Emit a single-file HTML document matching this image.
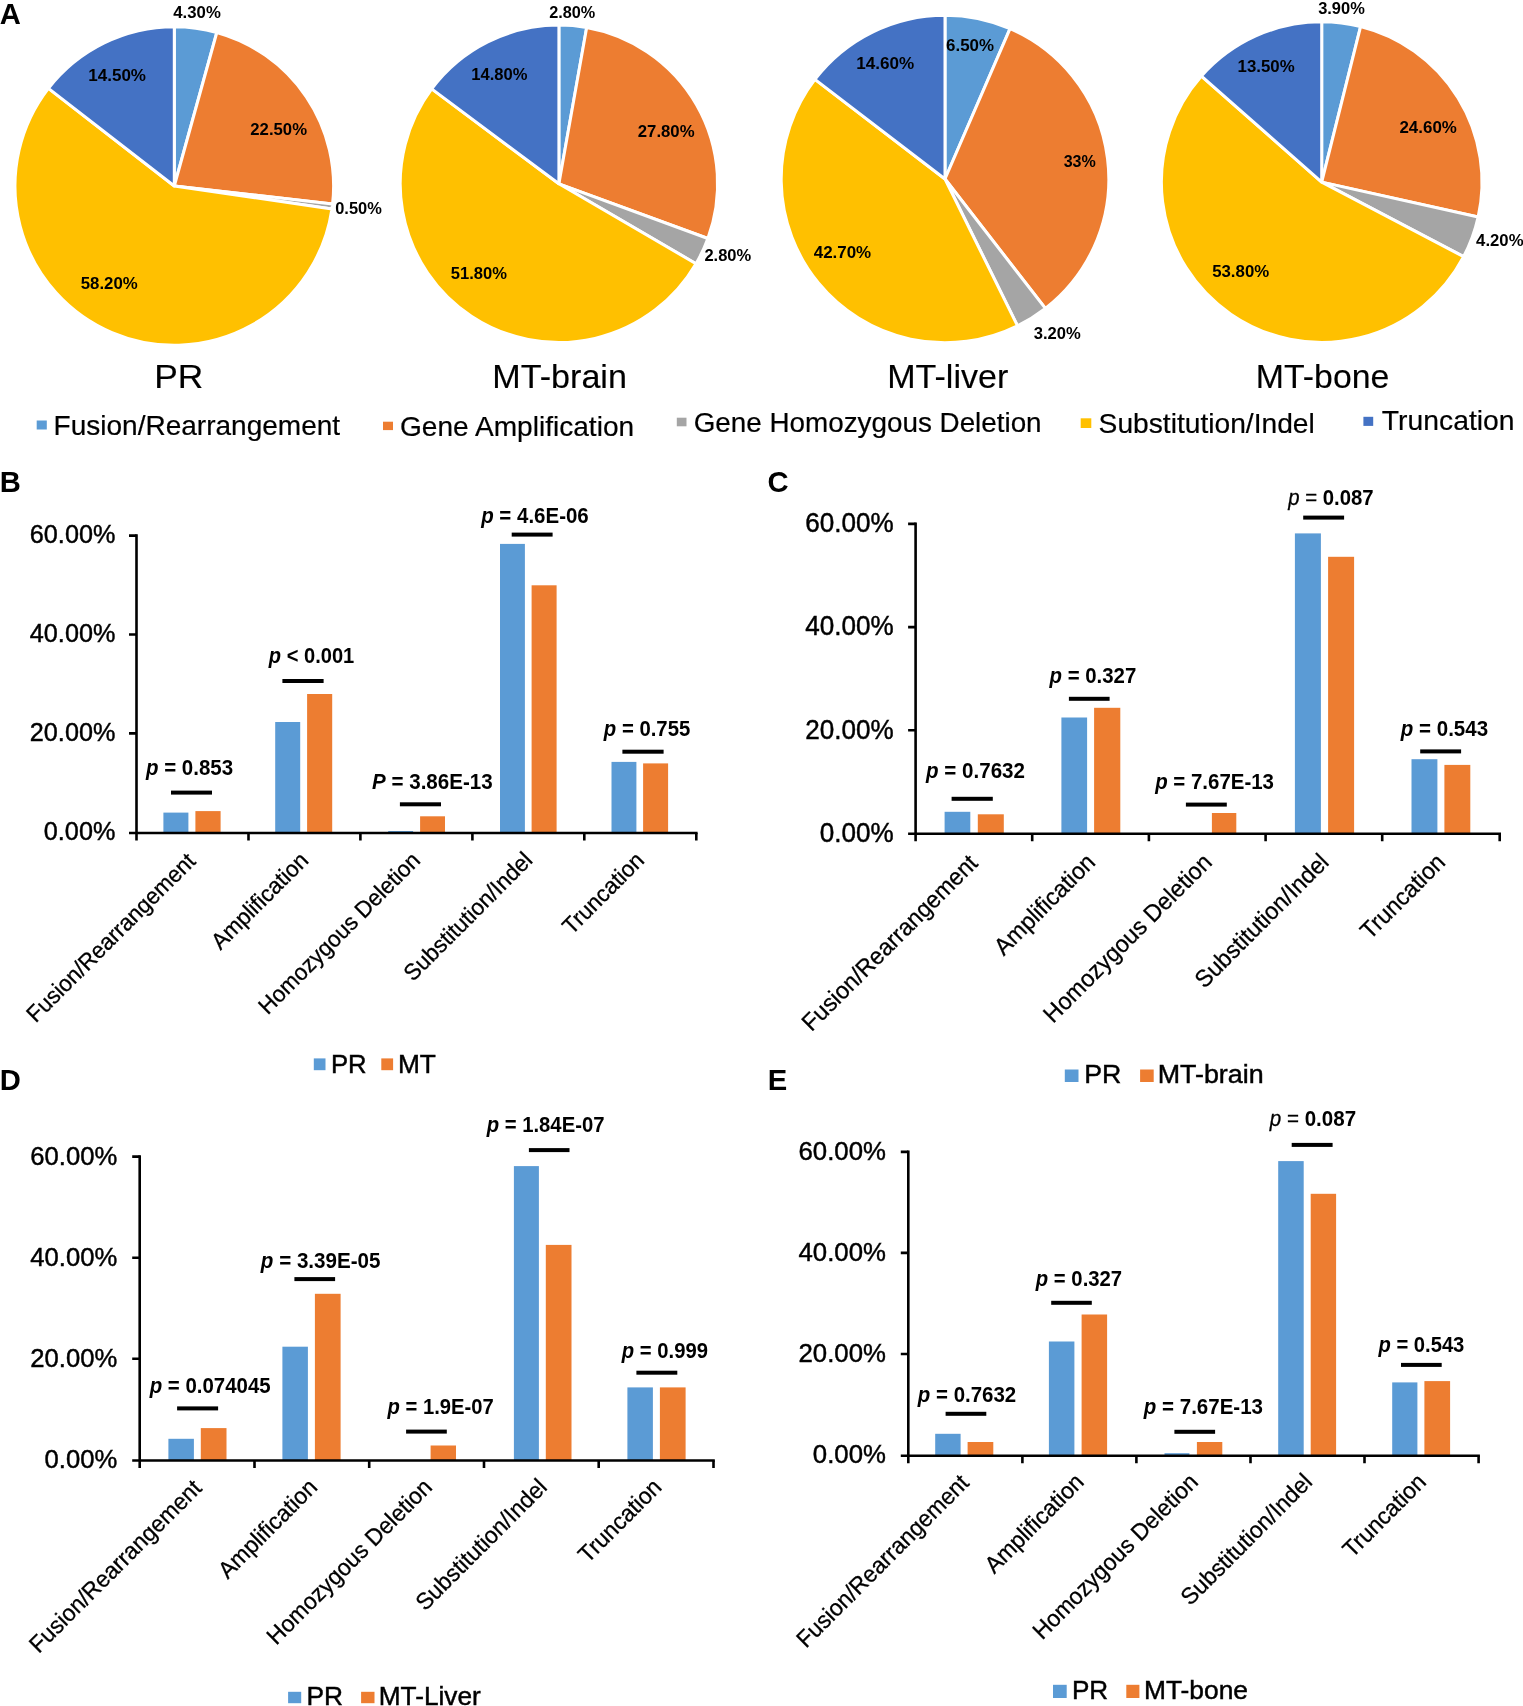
<!DOCTYPE html>
<html><head><meta charset="utf-8"><title>Figure</title>
<style>html,body{margin:0;padding:0;background:#fff}svg{display:block;filter:blur(0.35px)}text{font-family:"Liberation Sans", Arial, Helvetica, sans-serif;fill:#000;white-space:pre}</style>
</head><body>
<svg width="1523" height="1706" viewBox="0 0 1523 1706">
<rect width="1523" height="1706" fill="#fff"/>
<path d="M174.30,186.00 L174.30,26.70 A159.30,159.30 0 0 1 216.82,32.48 Z" fill="#5B9BD5" stroke="#fff" stroke-width="3.0" stroke-linejoin="round"/>
<path d="M174.30,186.00 L216.82,32.48 A159.30,159.30 0 0 1 332.58,203.98 Z" fill="#ED7D31" stroke="#fff" stroke-width="3.0" stroke-linejoin="round"/>
<path d="M174.30,186.00 L332.58,203.98 A159.30,159.30 0 0 1 331.94,208.94 Z" fill="#A5A5A5" stroke="#fff" stroke-width="3.0" stroke-linejoin="round"/>
<path d="M174.30,186.00 L331.94,208.94 A159.30,159.30 0 1 1 48.43,88.36 Z" fill="#FFC000" stroke="#fff" stroke-width="3.0" stroke-linejoin="round"/>
<path d="M174.30,186.00 L48.43,88.36 A159.30,159.30 0 0 1 174.30,26.70 Z" fill="#4472C4" stroke="#fff" stroke-width="3.0" stroke-linejoin="round"/>
<path d="M558.90,183.80 L558.90,25.10 A158.70,158.70 0 0 1 586.68,27.55 Z" fill="#5B9BD5" stroke="#fff" stroke-width="3.0" stroke-linejoin="round"/>
<path d="M558.90,183.80 L586.68,27.55 A158.70,158.70 0 0 1 707.88,238.49 Z" fill="#ED7D31" stroke="#fff" stroke-width="3.0" stroke-linejoin="round"/>
<path d="M558.90,183.80 L707.88,238.49 A158.70,158.70 0 0 1 696.00,263.73 Z" fill="#A5A5A5" stroke="#fff" stroke-width="3.0" stroke-linejoin="round"/>
<path d="M558.90,183.80 L696.00,263.73 A158.70,158.70 0 1 1 431.69,88.91 Z" fill="#FFC000" stroke="#fff" stroke-width="3.0" stroke-linejoin="round"/>
<path d="M558.90,183.80 L431.69,88.91 A158.70,158.70 0 0 1 558.90,25.10 Z" fill="#4472C4" stroke="#fff" stroke-width="3.0" stroke-linejoin="round"/>
<path d="M945.00,179.00 L945.00,15.20 A163.80,163.80 0 0 1 1010.05,28.67 Z" fill="#5B9BD5" stroke="#fff" stroke-width="3.0" stroke-linejoin="round"/>
<path d="M945.00,179.00 L1010.05,28.67 A163.80,163.80 0 0 1 1045.39,308.43 Z" fill="#ED7D31" stroke="#fff" stroke-width="3.0" stroke-linejoin="round"/>
<path d="M945.00,179.00 L1045.39,308.43 A163.80,163.80 0 0 1 1017.52,325.87 Z" fill="#A5A5A5" stroke="#fff" stroke-width="3.0" stroke-linejoin="round"/>
<path d="M945.00,179.00 L1017.52,325.87 A163.80,163.80 0 0 1 814.94,79.42 Z" fill="#FFC000" stroke="#fff" stroke-width="3.0" stroke-linejoin="round"/>
<path d="M945.00,179.00 L814.94,79.42 A163.80,163.80 0 0 1 945.00,15.20 Z" fill="#4472C4" stroke="#fff" stroke-width="3.0" stroke-linejoin="round"/>
<path d="M1321.70,182.10 L1321.70,21.80 A160.30,160.30 0 0 1 1360.59,26.59 Z" fill="#5B9BD5" stroke="#fff" stroke-width="3.0" stroke-linejoin="round"/>
<path d="M1321.70,182.10 L1360.59,26.59 A160.30,160.30 0 0 1 1478.14,217.07 Z" fill="#ED7D31" stroke="#fff" stroke-width="3.0" stroke-linejoin="round"/>
<path d="M1321.70,182.10 L1478.14,217.07 A160.30,160.30 0 0 1 1463.60,256.66 Z" fill="#A5A5A5" stroke="#fff" stroke-width="3.0" stroke-linejoin="round"/>
<path d="M1321.70,182.10 L1463.60,256.66 A160.30,160.30 0 1 1 1201.46,76.09 Z" fill="#FFC000" stroke="#fff" stroke-width="3.0" stroke-linejoin="round"/>
<path d="M1321.70,182.10 L1201.46,76.09 A160.30,160.30 0 0 1 1321.70,21.80 Z" fill="#4472C4" stroke="#fff" stroke-width="3.0" stroke-linejoin="round"/>
<rect x="36.7" y="420.5" width="10.1" height="9.0" fill="#5B9BD5"/>
<rect x="383" y="421.7" width="10.0" height="8.4" fill="#ED7D31"/>
<rect x="676.8" y="417.7" width="9.7" height="8.6" fill="#A5A5A5"/>
<rect x="1080.7" y="418.3" width="10.6" height="9.7" fill="#FFC000"/>
<rect x="1363.4" y="416.8" width="9.8" height="9.1" fill="#4472C4"/>
<text x="-0.3" y="23.9" font-size="29.2" font-weight="700">A</text>
<text x="-0.3" y="491.7" font-size="29.2" font-weight="700">B</text>
<text x="767.6" y="491.7" font-size="29.2" font-weight="700">C</text>
<text x="-0.3" y="1089.9" font-size="29.2" font-weight="700">D</text>
<text x="767.7" y="1089.8" font-size="29.2" font-weight="700">E</text>
<rect x="163.4" y="812.6" width="25.0" height="20.4" fill="#5B9BD5"/>
<rect x="195.4" y="811.1" width="25.2" height="21.9" fill="#ED7D31"/>
<rect x="275.2" y="722.0" width="25.0" height="111.0" fill="#5B9BD5"/>
<rect x="307.1" y="694.0" width="25.1" height="139.0" fill="#ED7D31"/>
<rect x="388.2" y="831.0" width="24.9" height="2.0" fill="#5B9BD5"/>
<rect x="420.1" y="816.3" width="24.9" height="16.7" fill="#ED7D31"/>
<rect x="500.0" y="543.9" width="24.9" height="289.1" fill="#5B9BD5"/>
<rect x="531.6" y="585.3" width="25.0" height="247.7" fill="#ED7D31"/>
<rect x="611.5" y="761.9" width="24.9" height="71.1" fill="#5B9BD5"/>
<rect x="643.1" y="763.4" width="25.0" height="69.6" fill="#ED7D31"/>
<path d="M136.5,534.3 V840.5 M129.0,833.0 H697.6" stroke="#000" stroke-width="2.6" fill="none"/>
<path d="M248.5,833.0 v7.5 M360.4,833.0 v7.5 M472.4,833.0 v7.5 M584.3,833.0 v7.5 M696.3,833.0 v7.5 M129.0,733.4 H136.5 M129.0,634.5 H136.5 M129.0,535.6 H136.5 " stroke="#000" stroke-width="2.6" fill="none"/>
<rect x="171.0" y="790.6" width="41.0" height="4" fill="#000"/>
<rect x="282.4" y="679.0" width="41.2" height="4" fill="#000"/>
<rect x="399.9" y="802.3" width="41.1" height="4" fill="#000"/>
<rect x="511.7" y="532.6" width="40.9" height="4" fill="#000"/>
<rect x="622.4" y="749.7" width="41.2" height="4" fill="#000"/>
<rect x="313.8" y="1058.4" width="11.7" height="11.8" fill="#5B9BD5"/>
<rect x="381.3" y="1058.4" width="11.8" height="11.8" fill="#ED7D31"/>
<rect x="944.6" y="811.8" width="25.7" height="22.0" fill="#5B9BD5"/>
<rect x="977.8" y="814.3" width="26.0" height="19.5" fill="#ED7D31"/>
<rect x="1061.4" y="717.5" width="25.7" height="116.3" fill="#5B9BD5"/>
<rect x="1094.1" y="707.8" width="26.2" height="126.0" fill="#ED7D31"/>
<rect x="1211.9" y="813.0" width="24.4" height="20.8" fill="#ED7D31"/>
<rect x="1294.9" y="533.4" width="26.0" height="300.4" fill="#5B9BD5"/>
<rect x="1328.1" y="556.8" width="26.0" height="277.0" fill="#ED7D31"/>
<rect x="1411.5" y="759.2" width="25.9" height="74.6" fill="#5B9BD5"/>
<rect x="1444.4" y="764.9" width="25.9" height="68.9" fill="#ED7D31"/>
<path d="M915.6,522.6 V841.3 M908.1,833.8 H1501.0" stroke="#000" stroke-width="2.6" fill="none"/>
<path d="M1032.2,833.8 v7.5 M1148.9,833.8 v7.5 M1265.6,833.8 v7.5 M1382.2,833.8 v7.5 M1499.7,833.8 v7.5 M908.1,730.3 H915.6 M908.1,627.1 H915.6 M908.1,523.9 H915.6 " stroke="#000" stroke-width="2.6" fill="none"/>
<rect x="951.6" y="796.8" width="41.2" height="4" fill="#000"/>
<rect x="1068.9" y="696.8" width="40.7" height="4" fill="#000"/>
<rect x="1185.9" y="802.6" width="40.9" height="4" fill="#000"/>
<rect x="1303.2" y="515.6" width="40.9" height="4" fill="#000"/>
<rect x="1420.2" y="749.4" width="40.9" height="4" fill="#000"/>
<rect x="1064.8" y="1069.5" width="13.7" height="12.5" fill="#5B9BD5"/>
<rect x="1140.1" y="1069.5" width="13.6" height="12.5" fill="#ED7D31"/>
<rect x="168.4" y="1438.8" width="25.5" height="21.7" fill="#5B9BD5"/>
<rect x="200.8" y="1428.1" width="25.7" height="32.4" fill="#ED7D31"/>
<rect x="282.4" y="1346.7" width="25.5" height="113.8" fill="#5B9BD5"/>
<rect x="314.9" y="1293.8" width="25.7" height="166.7" fill="#ED7D31"/>
<rect x="430.6" y="1445.5" width="25.4" height="15.0" fill="#ED7D31"/>
<rect x="513.9" y="1166.1" width="25.0" height="294.4" fill="#5B9BD5"/>
<rect x="545.8" y="1244.9" width="25.7" height="215.6" fill="#ED7D31"/>
<rect x="627.4" y="1387.4" width="25.5" height="73.1" fill="#5B9BD5"/>
<rect x="659.9" y="1387.4" width="25.7" height="73.1" fill="#ED7D31"/>
<path d="M139.7,1155.3 V1468.0 M132.2,1460.5 H714.8" stroke="#000" stroke-width="2.6" fill="none"/>
<path d="M254.5,1460.5 v7.5 M369.2,1460.5 v7.5 M484.0,1460.5 v7.5 M598.7,1460.5 v7.5 M713.5,1460.5 v7.5 M132.2,1358.7 H139.7 M132.2,1257.7 H139.7 M132.2,1156.6 H139.7 " stroke="#000" stroke-width="2.6" fill="none"/>
<rect x="177.1" y="1406.4" width="41.0" height="4" fill="#000"/>
<rect x="294.4" y="1277.1" width="40.7" height="4" fill="#000"/>
<rect x="406.1" y="1429.6" width="40.7" height="4" fill="#000"/>
<rect x="528.9" y="1148.1" width="40.6" height="4" fill="#000"/>
<rect x="636.4" y="1370.7" width="40.9" height="4" fill="#000"/>
<rect x="288.1" y="1691.8" width="13.1" height="11.4" fill="#5B9BD5"/>
<rect x="361.1" y="1691.8" width="13.4" height="11.4" fill="#ED7D31"/>
<rect x="935.2" y="1433.8" width="25.4" height="21.9" fill="#5B9BD5"/>
<rect x="967.6" y="1442.0" width="25.7" height="13.7" fill="#ED7D31"/>
<rect x="1048.9" y="1341.5" width="25.5" height="114.2" fill="#5B9BD5"/>
<rect x="1081.6" y="1314.5" width="25.5" height="141.2" fill="#ED7D31"/>
<rect x="1164.5" y="1453.2" width="24.9" height="2.5" fill="#5B9BD5"/>
<rect x="1196.9" y="1442.0" width="25.4" height="13.7" fill="#ED7D31"/>
<rect x="1278.2" y="1161.1" width="25.5" height="294.6" fill="#5B9BD5"/>
<rect x="1310.7" y="1193.8" width="25.4" height="261.9" fill="#ED7D31"/>
<rect x="1392.2" y="1382.4" width="25.2" height="73.3" fill="#5B9BD5"/>
<rect x="1424.4" y="1381.1" width="25.7" height="74.6" fill="#ED7D31"/>
<path d="M908.3,1150.6 V1463.2 M900.8,1455.7 H1479.9" stroke="#000" stroke-width="2.6" fill="none"/>
<path d="M1022.4,1455.7 v7.5 M1136.4,1455.7 v7.5 M1250.5,1455.7 v7.5 M1364.5,1455.7 v7.5 M1478.6,1455.7 v7.5 M900.8,1354.0 H908.3 M900.8,1252.9 H908.3 M900.8,1151.9 H908.3 " stroke="#000" stroke-width="2.6" fill="none"/>
<rect x="945.6" y="1411.8" width="40.7" height="4" fill="#000"/>
<rect x="1051.2" y="1300.8" width="40.6" height="4" fill="#000"/>
<rect x="1174.4" y="1429.8" width="40.7" height="4" fill="#000"/>
<rect x="1291.7" y="1142.9" width="40.9" height="4" fill="#000"/>
<rect x="1401.0" y="1362.9" width="40.7" height="4" fill="#000"/>
<rect x="1053" y="1684.8" width="13.7" height="13.2" fill="#5B9BD5"/>
<rect x="1126.3" y="1684.8" width="13.1" height="13.2" fill="#ED7D31"/>
<text transform="translate(173.30,17.90) scale(1.0611,1)" x="0.00" font-size="15.8" fill="#111" font-weight="700">4.30%</text>
<text transform="translate(88.23,80.60) scale(1.0787,1)" x="0.00" font-size="15.8" fill="#111" font-weight="700">14.50%</text>
<text transform="translate(250.28,135.00) scale(1.0592,1)" x="0.00" font-size="15.8" fill="#111" font-weight="700">22.50%</text>
<text transform="translate(335.19,214.20) scale(1.0412,1)" x="0.00" font-size="15.8" fill="#111" font-weight="700">0.50%</text>
<text transform="translate(80.74,288.80) scale(1.0637,1)" x="0.00" font-size="15.8" fill="#111" font-weight="700">58.20%</text>
<text transform="translate(549.19,17.70) scale(1.0299,1)" x="0.00" font-size="15.8" fill="#111" font-weight="700">2.80%</text>
<text transform="translate(471.26,79.60) scale(1.0482,1)" x="0.00" font-size="15.8" fill="#111" font-weight="700">14.80%</text>
<text transform="translate(637.78,137.00) scale(1.0611,1)" x="0.00" font-size="15.8" fill="#111" font-weight="700">27.80%</text>
<text transform="translate(704.38,261.00) scale(1.0458,1)" x="0.00" font-size="15.8" fill="#111" font-weight="700">2.80%</text>
<text transform="translate(450.84,279.00) scale(1.0486,1)" x="0.00" font-size="15.8" fill="#111" font-weight="700">51.80%</text>
<text transform="translate(946.07,50.60) scale(1.0707,1)" x="0.00" font-size="15.8" fill="#111" font-weight="700">6.50%</text>
<text transform="translate(856.23,69.40) scale(1.0826,1)" x="0.00" font-size="15.8" fill="#111" font-weight="700">14.60%</text>
<text transform="translate(1063.65,167.00) scale(1.0176,1)" x="0.00" font-size="15.8" fill="#111" font-weight="700">33%</text>
<text transform="translate(813.70,258.00) scale(1.0738,1)" x="0.00" font-size="15.8" fill="#111" font-weight="700">42.70%</text>
<text transform="translate(1033.74,339.00) scale(1.0512,1)" x="0.00" font-size="15.8" fill="#111" font-weight="700">3.20%</text>
<text transform="translate(1318.14,14.00) scale(1.0422,1)" x="0.00" font-size="15.8" fill="#111" font-weight="700">3.90%</text>
<text transform="translate(1237.55,72.20) scale(1.0654,1)" x="0.00" font-size="15.8" fill="#111" font-weight="700">13.50%</text>
<text transform="translate(1399.47,132.50) scale(1.0706,1)" x="0.00" font-size="15.8" fill="#111" font-weight="700">24.60%</text>
<text transform="translate(1476.10,246.00) scale(1.0589,1)" x="0.00" font-size="15.8" fill="#111" font-weight="700">4.20%</text>
<text transform="translate(1212.14,276.50) scale(1.0656,1)" x="0.00" font-size="15.8" fill="#111" font-weight="700">53.80%</text>
<text transform="translate(154.24,387.70) scale(1.0579,1)" x="0.00" font-size="33.4" stroke="#000" stroke-width="0.15">PR</text>
<text transform="translate(492.34,387.70) scale(1.0213,1)" x="0.00" font-size="33.4" stroke="#000" stroke-width="0.15">MT-brain</text>
<text transform="translate(887.24,387.70) scale(1.0201,1)" x="0.00" font-size="33.4" stroke="#000" stroke-width="0.15">MT-liver</text>
<text transform="translate(1255.86,387.70) scale(1.0130,1)" x="0.00" font-size="33.4" stroke="#000" stroke-width="0.15">MT-bone</text>
<text transform="translate(53.51,434.60) scale(1.0087,1)" x="0.00" font-size="27.8" stroke="#000" stroke-width="0.2">Fusion/Rearrangement</text>
<text transform="translate(399.98,436.20) scale(1.0106,1)" x="0.00" font-size="27.8" stroke="#000" stroke-width="0.2">Gene Amplification</text>
<text transform="translate(693.70,431.50) scale(1.0014,1)" x="0.00" font-size="27.8" stroke="#000" stroke-width="0.2">Gene Homozygous Deletion</text>
<text transform="translate(1098.62,432.60) scale(1.0139,1)" x="0.00" font-size="27.8" stroke="#000" stroke-width="0.2">Substitution/Indel</text>
<text transform="translate(1381.86,430.40) scale(1.0186,1)" x="0.00" font-size="27.8" stroke="#000" stroke-width="0.2">Truncation</text>
<text transform="translate(43.84,840.13) scale(0.9890,1)" x="0.00" font-size="25.5" stroke="#000" stroke-width="0.45">0.00%</text>
<text transform="translate(29.82,741.23) scale(0.9890,1)" x="0.00" font-size="25.5" stroke="#000" stroke-width="0.45">20.00%</text>
<text transform="translate(29.82,642.33) scale(0.9890,1)" x="0.00" font-size="25.5" stroke="#000" stroke-width="0.45">40.00%</text>
<text transform="translate(29.82,543.43) scale(0.9890,1)" x="0.00" font-size="25.5" stroke="#000" stroke-width="0.45">60.00%</text>
<text transform="translate(196.88,862.50) rotate(-45) scale(0.9680,1)" x="-235.31" font-size="23" stroke="#000" stroke-width="0.3">Fusion/Rearrangement</text>
<text transform="translate(308.84,862.50) rotate(-45) scale(0.9680,1)" x="-129.09" font-size="23" stroke="#000" stroke-width="0.3">Amplification</text>
<text transform="translate(420.80,862.50) rotate(-45) scale(0.9680,1)" x="-223.71" font-size="23" stroke="#000" stroke-width="0.3">Homozygous Deletion</text>
<text transform="translate(532.76,862.50) rotate(-45) scale(0.9680,1)" x="-174.94" font-size="23" stroke="#000" stroke-width="0.3">Substitution/Indel</text>
<text transform="translate(644.72,862.50) rotate(-45) scale(0.9680,1)" x="-106.52" font-size="23" stroke="#000" stroke-width="0.3">Truncation</text>
<text transform="translate(146.04,775.00) scale(0.9612,1)" x="0.00" font-size="21.3" xml:space="preserve"><tspan font-weight="700" font-style="italic">p</tspan><tspan font-weight="700"> = 0.853</tspan></text>
<text transform="translate(268.83,663.40) scale(0.9435,1)" x="0.00" font-size="21.3" xml:space="preserve"><tspan font-weight="700" font-style="italic">p</tspan><tspan font-weight="700"> &lt; 0.001</tspan></text>
<text transform="translate(372.08,789.40) scale(0.9656,1)" x="0.00" font-size="21.3" xml:space="preserve"><tspan font-weight="700" font-style="italic">P</tspan><tspan font-weight="700"> = 3.86E-13</tspan></text>
<text transform="translate(481.14,522.90) scale(0.9623,1)" x="0.00" font-size="21.3" xml:space="preserve"><tspan font-weight="700" font-style="italic">p</tspan><tspan font-weight="700"> = 4.6E-06</tspan></text>
<text transform="translate(603.84,735.70) scale(0.9546,1)" x="0.00" font-size="21.3" xml:space="preserve"><tspan font-weight="700" font-style="italic">p</tspan><tspan font-weight="700"> = 0.755</tspan></text>
<text transform="translate(330.99,1072.80) scale(1.0038,1)" x="0.00" font-size="25.6" stroke="#000" stroke-width="0.45">PR</text>
<text transform="translate(397.94,1072.80) scale(1.0282,1)" x="0.00" font-size="25.6" stroke="#000" stroke-width="0.45">MT</text>
<text transform="translate(819.79,841.73) scale(0.9737,1)" x="0.00" font-size="26.8" stroke="#000" stroke-width="0.45">0.00%</text>
<text transform="translate(805.28,738.53) scale(0.9737,1)" x="0.00" font-size="26.8" stroke="#000" stroke-width="0.45">20.00%</text>
<text transform="translate(805.28,635.33) scale(0.9737,1)" x="0.00" font-size="26.8" stroke="#000" stroke-width="0.45">40.00%</text>
<text transform="translate(805.28,532.13) scale(0.9737,1)" x="0.00" font-size="26.8" stroke="#000" stroke-width="0.45">60.00%</text>
<text transform="translate(979.23,864.50) rotate(-45) scale(0.9660,1)" x="-245.54" font-size="24" stroke="#000" stroke-width="0.3">Fusion/Rearrangement</text>
<text transform="translate(1095.88,864.50) rotate(-45) scale(0.9660,1)" x="-134.71" font-size="24" stroke="#000" stroke-width="0.3">Amplification</text>
<text transform="translate(1212.52,864.50) rotate(-45) scale(0.9660,1)" x="-233.44" font-size="24" stroke="#000" stroke-width="0.3">Homozygous Deletion</text>
<text transform="translate(1329.17,864.50) rotate(-45) scale(0.9660,1)" x="-182.54" font-size="24" stroke="#000" stroke-width="0.3">Substitution/Indel</text>
<text transform="translate(1445.83,864.50) rotate(-45) scale(0.9660,1)" x="-111.15" font-size="24" stroke="#000" stroke-width="0.3">Truncation</text>
<text transform="translate(926.04,777.60) scale(0.9662,1)" x="0.00" font-size="21.3" xml:space="preserve"><tspan font-weight="700" font-style="italic">p</tspan><tspan font-weight="700"> = 0.7632</tspan></text>
<text transform="translate(1049.54,682.80) scale(0.9581,1)" x="0.00" font-size="21.3" xml:space="preserve"><tspan font-weight="700" font-style="italic">p</tspan><tspan font-weight="700"> = 0.327</tspan></text>
<text transform="translate(1155.14,788.80) scale(0.9607,1)" x="0.00" font-size="21.3" xml:space="preserve"><tspan font-weight="700" font-style="italic">p</tspan><tspan font-weight="700"> = 7.67E-13</tspan></text>
<text transform="translate(1288.14,505.40) scale(0.9560,1)" x="0.00" font-size="21.3" xml:space="preserve"><tspan stroke="#000" stroke-width="0.3" font-style="italic">p</tspan><tspan stroke="#000" stroke-width="0.3"> = </tspan><tspan font-weight="700">0.087</tspan></text>
<text transform="translate(1400.84,736.20) scale(0.9634,1)" x="0.00" font-size="21.3" xml:space="preserve"><tspan font-weight="700" font-style="italic">p</tspan><tspan font-weight="700"> = 0.543</tspan></text>
<text transform="translate(1084.31,1082.60) scale(1.0560,1)" x="0.00" font-size="25.3" stroke="#000" stroke-width="0.45">PR</text>
<text transform="translate(1157.70,1082.60) scale(1.0620,1)" x="0.00" font-size="25.3" stroke="#000" stroke-width="0.45">MT-brain</text>
<text transform="translate(44.56,1467.84) scale(0.9787,1)" x="0.00" font-size="26.2" stroke="#000" stroke-width="0.45">0.00%</text>
<text transform="translate(30.30,1366.78) scale(0.9787,1)" x="0.00" font-size="26.2" stroke="#000" stroke-width="0.45">20.00%</text>
<text transform="translate(30.30,1265.71) scale(0.9787,1)" x="0.00" font-size="26.2" stroke="#000" stroke-width="0.45">40.00%</text>
<text transform="translate(30.30,1164.64) scale(0.9787,1)" x="0.00" font-size="26.2" stroke="#000" stroke-width="0.45">60.00%</text>
<text transform="translate(203.08,1489.50) rotate(-45) scale(0.9670,1)" x="-240.43" font-size="23.5" stroke="#000" stroke-width="0.3">Fusion/Rearrangement</text>
<text transform="translate(317.84,1489.50) rotate(-45) scale(0.9670,1)" x="-131.90" font-size="23.5" stroke="#000" stroke-width="0.3">Amplification</text>
<text transform="translate(432.60,1489.50) rotate(-45) scale(0.9670,1)" x="-228.57" font-size="23.5" stroke="#000" stroke-width="0.3">Homozygous Deletion</text>
<text transform="translate(547.36,1489.50) rotate(-45) scale(0.9670,1)" x="-178.74" font-size="23.5" stroke="#000" stroke-width="0.3">Substitution/Indel</text>
<text transform="translate(662.12,1489.50) rotate(-45) scale(0.9670,1)" x="-108.84" font-size="23.5" stroke="#000" stroke-width="0.3">Truncation</text>
<text transform="translate(149.64,1393.10) scale(0.9599,1)" x="0.00" font-size="21.3" xml:space="preserve"><tspan font-weight="700" font-style="italic">p</tspan><tspan font-weight="700"> = 0.074045</tspan></text>
<text transform="translate(260.84,1267.60) scale(0.9672,1)" x="0.00" font-size="21.3" xml:space="preserve"><tspan font-weight="700" font-style="italic">p</tspan><tspan font-weight="700"> = 3.39E-05</tspan></text>
<text transform="translate(387.53,1413.90) scale(0.9500,1)" x="0.00" font-size="21.3" xml:space="preserve"><tspan font-weight="700" font-style="italic">p</tspan><tspan font-weight="700"> = 1.9E-07</tspan></text>
<text transform="translate(486.63,1132.40) scale(0.9528,1)" x="0.00" font-size="21.3" xml:space="preserve"><tspan font-weight="700" font-style="italic">p</tspan><tspan font-weight="700"> = 1.84E-07</tspan></text>
<text transform="translate(621.83,1357.70) scale(0.9513,1)" x="0.00" font-size="21.3" xml:space="preserve"><tspan font-weight="700" font-style="italic">p</tspan><tspan font-weight="700"> = 0.999</tspan></text>
<text transform="translate(306.54,1705.30) scale(1.0530,1)" x="0.00" font-size="25" stroke="#000" stroke-width="0.45">PR</text>
<text transform="translate(378.75,1705.30) scale(1.0488,1)" x="0.00" font-size="25" stroke="#000" stroke-width="0.45">MT-Liver</text>
<text transform="translate(812.84,1463.04) scale(0.9844,1)" x="0.00" font-size="26.2" stroke="#000" stroke-width="0.45">0.00%</text>
<text transform="translate(798.49,1362.01) scale(0.9844,1)" x="0.00" font-size="26.2" stroke="#000" stroke-width="0.45">20.00%</text>
<text transform="translate(798.49,1260.98) scale(0.9844,1)" x="0.00" font-size="26.2" stroke="#000" stroke-width="0.45">40.00%</text>
<text transform="translate(798.49,1159.94) scale(0.9844,1)" x="0.00" font-size="26.2" stroke="#000" stroke-width="0.45">60.00%</text>
<text transform="translate(970.33,1484.30) rotate(-45) scale(0.9670,1)" x="-240.43" font-size="23.5" stroke="#000" stroke-width="0.3">Fusion/Rearrangement</text>
<text transform="translate(1084.39,1484.30) rotate(-45) scale(0.9670,1)" x="-131.90" font-size="23.5" stroke="#000" stroke-width="0.3">Amplification</text>
<text transform="translate(1198.45,1484.30) rotate(-45) scale(0.9670,1)" x="-228.57" font-size="23.5" stroke="#000" stroke-width="0.3">Homozygous Deletion</text>
<text transform="translate(1312.51,1484.30) rotate(-45) scale(0.9670,1)" x="-178.74" font-size="23.5" stroke="#000" stroke-width="0.3">Substitution/Indel</text>
<text transform="translate(1426.57,1484.30) rotate(-45) scale(0.9670,1)" x="-108.84" font-size="23.5" stroke="#000" stroke-width="0.3">Truncation</text>
<text transform="translate(917.84,1402.40) scale(0.9603,1)" x="0.00" font-size="21.3" xml:space="preserve"><tspan font-weight="700" font-style="italic">p</tspan><tspan font-weight="700"> = 0.7632</tspan></text>
<text transform="translate(1035.83,1286.10) scale(0.9525,1)" x="0.00" font-size="21.3" xml:space="preserve"><tspan font-weight="700" font-style="italic">p</tspan><tspan font-weight="700"> = 0.327</tspan></text>
<text transform="translate(1143.84,1413.80) scale(0.9631,1)" x="0.00" font-size="21.3" xml:space="preserve"><tspan font-weight="700" font-style="italic">p</tspan><tspan font-weight="700"> = 7.67E-13</tspan></text>
<text transform="translate(1269.84,1126.20) scale(0.9650,1)" x="0.00" font-size="21.3" xml:space="preserve"><tspan stroke="#000" stroke-width="0.3" font-style="italic">p</tspan><tspan stroke="#000" stroke-width="0.3"> = </tspan><tspan font-weight="700">0.087</tspan></text>
<text transform="translate(1378.43,1351.50) scale(0.9490,1)" x="0.00" font-size="21.3" xml:space="preserve"><tspan font-weight="700" font-style="italic">p</tspan><tspan font-weight="700"> = 0.543</tspan></text>
<text transform="translate(1071.96,1698.70) scale(1.0436,1)" x="0.00" font-size="25" stroke="#000" stroke-width="0.45">PR</text>
<text transform="translate(1143.94,1698.70) scale(1.0555,1)" x="0.00" font-size="25" stroke="#000" stroke-width="0.45">MT-bone</text>
</svg>
</body></html>
